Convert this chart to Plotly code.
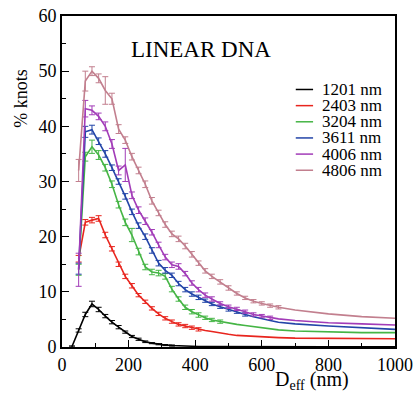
import plotly.graph_objects as go

# ---------------- data ----------------
D_EFF = [50, 70, 90, 110, 130, 150, 170, 190, 210, 230,
         250, 270, 290, 310, 330, 350, 370, 390, 410, 430,
         450, 475, 500, 525, 550, 575, 600, 625, 650,
         700, 800, 900, 1000]
D_EFF_BLACK = [30] + D_EFF

labels = ["1201 nm", "2403 nm", "3204 nm", "3611 nm", "4006 nm", "4806 nm"]
colors = ["#000000", "#e8251e", "#45b545", "#2345a8", "#a23cb8", "#c27f8e"]

knots_1201 = [0.1, 3.0, 5.9, 7.8, 6.8, 5.6, 4.5, 3.6, 2.7, 1.9, 1.4,
              0.95, 0.7, 0.5, 0.35, 0.27, 0.2, 0.16, 0.13, 0.1, 0.09,
              0.08, 0.07, 0.06, 0.05, 0.05, 0.04, 0.04, 0.04, 0.03,
              0.03, 0.02, 0.02, 0.02]
knots_2403 = [16.0, 22.6, 23.0, 23.3, 20.3, 17.8, 15.0, 12.8, 11.1, 9.4,
              8.2, 7.0, 6.0, 5.2, 4.6, 4.1, 3.8, 3.5, 3.2, 3.0,
              2.8, 2.5, 2.3, 2.1, 2.0, 1.9, 1.8, 1.75, 1.7,
              1.6, 1.55, 1.5, 1.5]
knots_3204 = [14.0, 34.5, 36.3, 34.8, 32.5, 29.5, 25.8, 22.6, 20.3, 17.3,
              14.5, 13.6, 13.4, 12.8, 10.5, 8.7, 7.2, 6.4, 5.8, 5.3,
              4.9, 4.6, 4.3, 4.1, 3.9, 3.7, 3.5, 3.3, 3.1,
              2.9, 2.7, 2.6, 2.6]
knots_3611 = [14.2, 39.0, 39.4, 37.3, 35.0, 32.5, 30.0, 27.3, 24.5, 22.0,
              20.0, 17.5, 15.2, 13.9, 13.0, 11.5, 10.4, 9.6, 9.0, 8.4,
              7.8, 7.3, 6.8, 6.4, 5.9, 5.5, 5.1, 4.8, 4.5,
              4.2, 3.8, 3.5, 3.2]
knots_4006 = [14.0, 43.2, 42.9, 41.8, 40.0, 36.8, 32.0, 33.0, 27.5, 24.8,
              22.8, 20.8, 18.5, 16.3, 14.9, 14.6, 13.3, 11.6, 10.4, 9.4,
              8.7, 7.9, 7.3, 6.9, 6.4, 5.9, 5.6, 5.3, 5.1,
              4.8, 4.4, 4.2, 4.0]
knots_4806 = [32.0, 48.2, 50.0, 48.7, 46.5, 45.0, 39.5, 37.5, 34.5, 32.0,
              29.5, 26.5, 24.3, 22.2, 20.5, 19.6, 18.3, 16.8, 15.2, 13.8,
              12.8, 11.8, 10.7, 9.7, 8.9, 8.3, 7.9, 7.5, 7.2,
              6.7, 6.0, 5.5, 5.2]

# error bars (only where they are visible in the original)
err_1201 = [0.1, 0.3, 0.4, 0.5, 0.4, 0.3, 0.3, 0.3, 0.2, 0.2, 0.2,
            0.15, 0.1, 0.1, 0.1, 0.1]
err_2403 = [0.6, 0.5, 0.5, 0.5, 0.5, 0.4, 0.4, 0.4, 0.4, 0.3,
            0.3, 0.3, 0.3, 0.3, 0.3, 0.3, 0.3, 0.3, 0.3]
err_3204 = [1.0, 0.8, 1.2, 0.8, 0.6, 0.6, 0.6, 0.6, 1.2, 0.6,
            0.5, 0.5, 0.5, 0.5, 0.5, 0.4, 0.4, 0.4, 0.4, 0.3,
            0.3, 0.3]
err_3611 = [1.0, 1.0, 0.8, 0.6, 0.6, 0.5, 0.5, 0.5, 0.5, 0.5,
            0.5, 0.5, 0.5, 0.5, 0.4, 0.4, 0.4, 0.4, 0.4, 0.3,
            0.3, 0.3, 0.3, 0.3, 0.3]
err_4006 = [3.0, 1.5, 0.8, 0.6, 0.8, 0.8, 0.8, 3.0, 0.6, 0.6,
            0.6, 0.5, 0.5, 0.5, 0.5, 0.5, 0.4, 0.4, 0.4, 0.4,
            0.4, 0.3, 0.3, 0.3, 0.3, 0.3, 0.3, 0.3]
err_4806 = [2.0, 1.8, 0.8, 0.8, 2.5, 1.0, 0.8, 0.6, 0.6, 0.6,
            0.6, 0.6, 0.5, 0.5, 0.5, 0.5, 0.5, 0.5, 0.4, 0.4,
            0.4, 0.4, 0.4, 0.3, 0.3, 0.3, 0.3, 0.3, 0.3]

x_ticks = [0, 200, 400, 600, 800, 1000]
y_ticks = [0, 10, 20, 30, 40, 50, 60]

series = [
    (D_EFF_BLACK, knots_1201, err_1201),
    (D_EFF, knots_2403, err_2403),
    (D_EFF, knots_3204, err_3204),
    (D_EFF, knots_3611, err_3611),
    (D_EFF, knots_4006, err_4006),
    (D_EFF, knots_4806, err_4806),
]

FONT = "Times New Roman, Times, serif"

fig = go.Figure()
for (xs, ys, es), name, col in zip(series, labels, colors):
    fig.add_trace(go.Scatter(
        x=xs, y=ys, mode="lines", name=name,
        line=dict(color=col, width=1.6),
        error_y=dict(type="data", array=es, visible=True,
                     color=col, thickness=1, width=3),
        showlegend=False,
    ))

# manual legend (compact rows like the original)
leg_y0 = 0.778
leg_dy = 0.0488
for i, (name, col) in enumerate(zip(labels, colors)):
    yy = leg_y0 - i * leg_dy
    fig.add_shape(type="line", xref="paper", yref="paper",
                  x0=0.702, x1=0.754, y0=yy, y1=yy,
                  line=dict(color=col, width=1.5))
    fig.add_annotation(xref="paper", yref="paper", x=0.775, y=yy,
                       text=name, showarrow=False, xanchor="left",
                       yanchor="middle",
                       font=dict(family=FONT, size=17, color="black"))

fig.add_annotation(xref="paper", yref="paper", x=0.418, y=0.900,
                   text="LINEAR DNA", showarrow=False,
                   xanchor="center", yanchor="middle",
                   font=dict(family=FONT, size=23, color="black"))
fig.add_annotation(xref="paper", yref="paper", x=-0.123, y=0.75,
                   text="% knots", showarrow=False, textangle=-90,
                   xanchor="center", yanchor="middle",
                   font=dict(family=FONT, size=18, color="black"))
fig.add_annotation(xref="paper", yref="paper", x=0.751, y=-0.102,
                   text="D<sub>eff</sub> (nm)", showarrow=False,
                   xanchor="center", yanchor="middle",
                   font=dict(family=FONT, size=20, color="black"))

axis_common = dict(
    showgrid=False, zeroline=False, showline=True, linewidth=1.8,
    linecolor="black", mirror=True, ticks="inside", ticklen=7,
    tickwidth=1.3, tickcolor="black", ticklabeloverflow="allow",
    tickfont=dict(family=FONT, size=18, color="black"),
)
fig.update_xaxes(range=[0, 1000], tickvals=x_ticks,
                 minor=dict(dtick=100, tick0=0, ticks="inside", ticklen=4,
                            tickwidth=1.2, tickcolor="black"),
                 **axis_common)
fig.update_yaxes(range=[0, 60], tickvals=y_ticks,
                 minor=dict(dtick=5, tick0=0, ticks="inside", ticklen=4,
                            tickwidth=1.2, tickcolor="black"),
                 **axis_common)

fig.update_layout(
    width=419, height=403,
    margin=dict(l=62, r=15, t=6, b=56, pad=0),
    plot_bgcolor="white", paper_bgcolor="white",
    showlegend=False,
    font=dict(family=FONT, color="black"),
)

fig.write_html("out.html",
               config={"displayModeBar": False},
               post_script="document.body.style.margin='0';"
                           "document.body.style.overflow='hidden';")
